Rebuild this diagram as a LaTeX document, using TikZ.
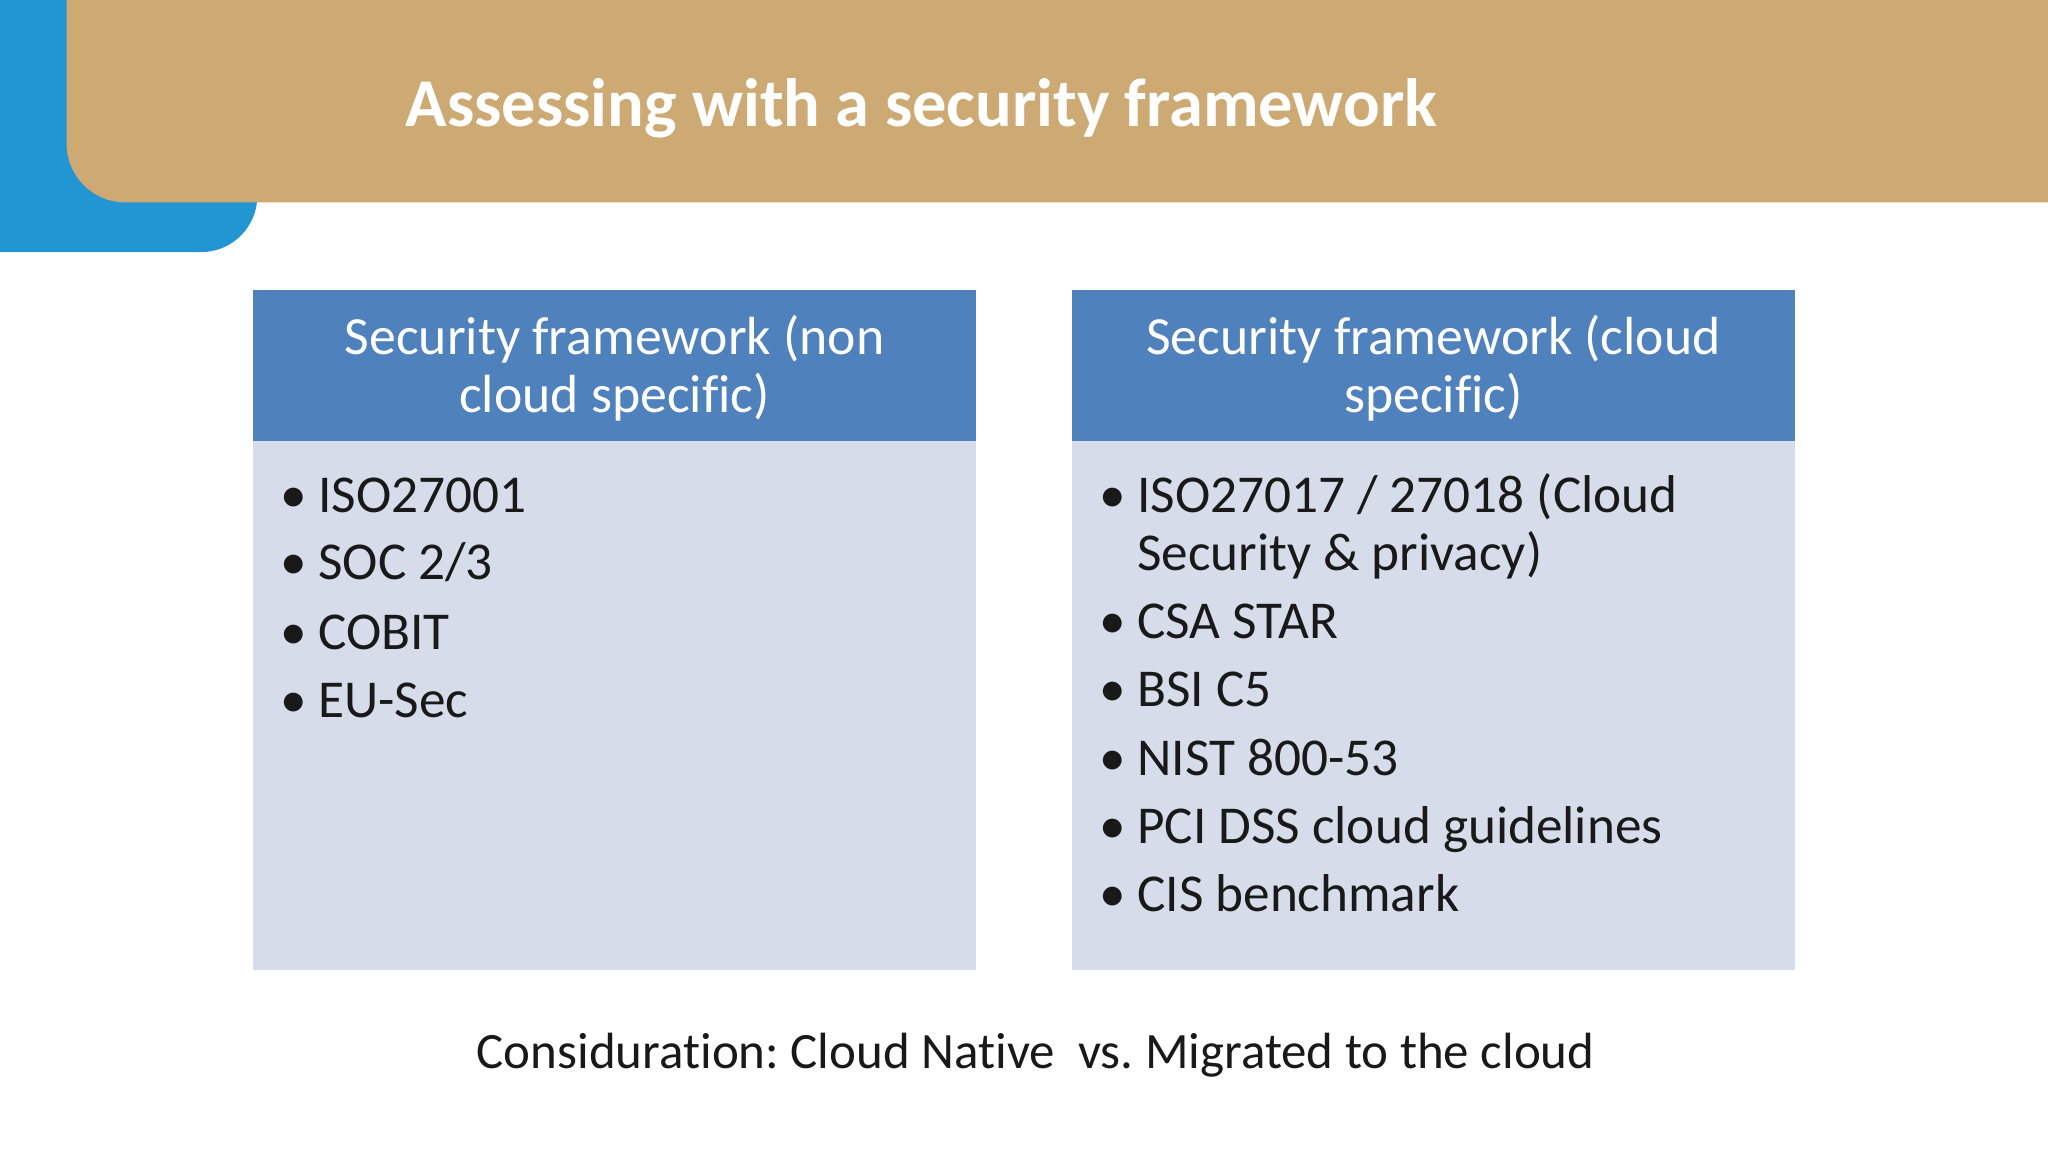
\documentclass[tikz,border=0pt]{standalone}
\usepackage{fontspec}
\setmainfont{Carlito}[Ligatures=NoCommon]
\definecolor{sideblue}{HTML}{2196D3}
\definecolor{tan}{HTML}{CDAA74}
\definecolor{hdr}{HTML}{4F81BD}
\definecolor{bodyc}{HTML}{D7DCEA}
\frenchspacing
\begin{document}
\begin{tikzpicture}[x=0.1mm,y=-0.1mm,
  item/.style={anchor=base west,inner sep=0pt,font=\fontsize{11.6}{14}\selectfont,text=black!90},
  bul/.style={anchor=base west,inner sep=0pt,font=\fontsize{11.6}{14}\selectfont,text=black!90},
  head/.style={align=center,text=white,font=\fontsize{11.7}{12.6}\selectfont,inner sep=0pt}]
\useasboundingbox (0,0) rectangle (1568,882);
\fill[white] (0,0) rectangle (1568,882);
\fill[sideblue] (0,0) -- (197,0) -- (197,150) arc[start angle=0,end angle=-90,x radius=43,y radius=-43] -- (0,193) -- cycle;
\fill[tan] (51,0) -- (1568,0) -- (1568,155) -- (96,155) arc[start angle=-90,end angle=-180,x radius=45,y radius=-45] -- cycle;
\node[anchor=base west,inner sep=0pt,text=white,font=\fontsize{14.9}{18}\selectfont\bfseries] (title) at (310,97) {Assessing with a security framework};
% left box
\fill[hdr] (194,222) rectangle (747,338);
\fill[bodyc] (194,338) rectangle (747,743);
\node[head] (lh) at (470.5,282) {Security framework (non\\cloud specific)};
\foreach \t/\y [count=\i] in {ISO27001/392,SOC 2{/}3/444,COBIT/497,EU-Sec/549}{
  \node[bul] (lb\i) at (214,\y) {\textbullet};
  \node[item] (li\i) at (243,\y) {\t};
}
% right box
\fill[hdr] (821,222) rectangle (1374,338);
\fill[bodyc] (821,338) rectangle (1374,743);
\node[head] (rh) at (1097.5,282) {Security framework (cloud\\specific)};
\node[bul] (rb0) at (841,392) {\textbullet};
\node[item] (ri0) at (870,392) {ISO27017 / 27018 (Cloud};
\node[item] (ri0b) at (870,437) {Security \& privacy)};
\foreach \t/\y [count=\i] in {CSA STAR/489,BSI C5/541,NIST 800-53/594,PCI DSS cloud guidelines/646,CIS benchmark/698}{
  \node[bul] (rb\i) at (841,\y) {\textbullet};
  \node[item] (ri\i) at (870,\y) {\t};
}
\node[anchor=base,inner sep=0pt,font=\fontsize{11.1}{14}\selectfont,text=black!90] (foot) at (793,818) {Considuration: Cloud Native\ \ vs. Migrated to the cloud};
\end{tikzpicture}
\end{document}
